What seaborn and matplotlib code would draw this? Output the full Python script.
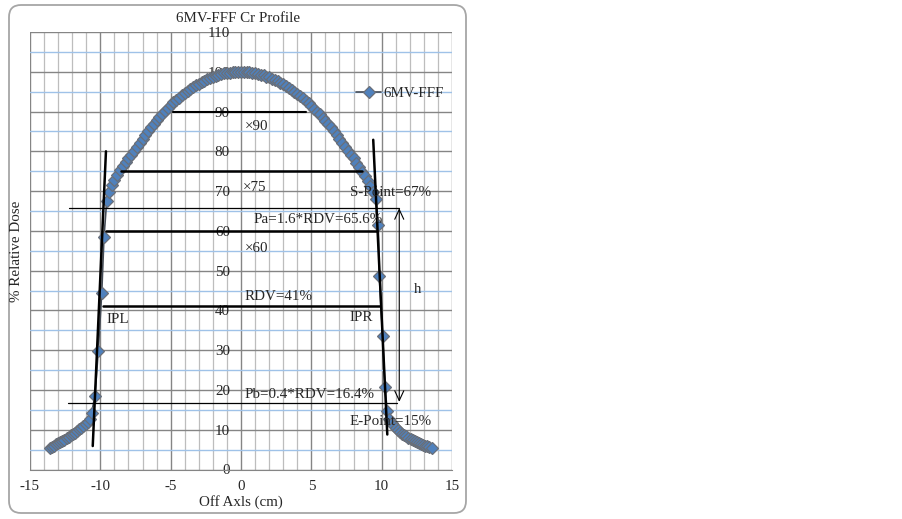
import matplotlib
matplotlib.use("Agg")
import matplotlib.pyplot as plt
import seaborn as sns
import pandas as pd
from matplotlib.patches import FancyBboxPatch
from matplotlib.transforms import IdentityTransform
from matplotlib.ticker import MultipleLocator

# profile 6MV-FFF doc tu hinh (x: cm, y: % dose)
off_axis = [
    -13.6, -13.45, -13.3, -13.15, -13.0, -12.85, -12.7, -12.55, -12.4, -12.25,
    -12.1, -11.95, -11.8, -11.65, -11.5, -11.35, -11.2, -11.05, -10.9, -10.75,
    -10.62, -10.38, -10.15, -9.9, -9.74, -9.55, -9.4,
    -9.2, -9.0, -8.8, -8.6, -8.4, -8.2, -8.0, -7.8, -7.6, -7.4, -7.2, -7.0,
    -6.8, -6.6, -6.4, -6.2, -6.0, -5.8, -5.6, -5.4, -5.2, -5.0, -4.8, -4.6,
    -4.4, -4.2, -4.0, -3.8, -3.6, -3.4, -3.2, -3.0, -2.8, -2.6, -2.4, -2.2,
    -2.0, -1.8, -1.6, -1.4, -1.2, -1.0, -0.8, -0.6, -0.4, -0.2, 0.0,
    0.2, 0.4, 0.6, 0.8, 1.0, 1.2, 1.4, 1.6, 1.8, 2.0, 2.2, 2.4, 2.6, 2.8,
    3.0, 3.2, 3.4, 3.6, 3.8, 4.0, 4.2, 4.4, 4.6, 4.8, 5.0, 5.2, 5.4, 5.6,
    5.8, 6.0, 6.2, 6.4, 6.6, 6.8, 7.0, 7.2, 7.4, 7.6, 7.8, 8.0, 8.2, 8.4,
    8.6, 8.8, 9.0, 9.2, 9.4, 9.6,
    9.76, 9.83, 10.07, 10.23, 10.4,
    10.55, 10.7, 10.85, 11.0, 11.15, 11.3, 11.45, 11.6, 11.75, 11.9, 12.05,
    12.2, 12.35, 12.5, 12.65, 12.8, 12.95, 13.1, 13.25, 13.4, 13.55,
]
rel_dose = [
    5.4, 5.7, 6.0, 6.3, 6.6, 6.9, 7.2, 7.5, 7.9, 8.2,
    8.6, 8.9, 9.3, 9.7, 10.1, 10.5, 10.9, 11.4, 12.0, 12.6,
    14.2, 18.6, 29.7, 44.4, 58.5, 67.4, 69.8,
    71.5, 72.9, 74.0, 75.2, 76.4, 77.4, 78.3, 79.2, 80.2, 81.2, 82.2, 83.2,
    84.1, 85.0, 86.0, 86.9, 87.8, 88.6, 89.4, 90.2, 90.9, 91.6, 92.3, 92.9,
    93.5, 94.1, 94.6, 95.1, 95.6, 96.1, 96.6, 97.0, 97.4, 97.8, 98.1, 98.4,
    98.7, 99.0, 99.2, 99.4, 99.6, 99.7, 99.8, 99.9, 100.0, 100.0, 100.0,
    100.0, 99.9, 99.9, 99.8, 99.7, 99.5, 99.3, 99.1, 98.8, 98.6, 98.3, 98.0, 97.6, 97.3,
    96.9, 96.5, 96.0, 95.5, 95.0, 94.5, 93.9, 93.3, 92.7, 92.1, 91.4, 90.7, 90.0, 89.3,
    88.5, 87.7, 86.9, 86.0, 85.1, 84.2, 83.2, 82.2, 81.2, 80.2, 79.2, 78.2, 77.1, 76.0,
    74.9, 73.7, 72.5, 71.2, 69.8, 67.9,
    61.6, 48.6, 33.5, 20.8, 14.6,
    12.6, 11.6, 11.0, 10.4, 9.9, 9.4, 9.0, 8.6, 8.3, 8.0, 7.7,
    7.4, 7.1, 6.8, 6.6, 6.4, 6.2, 6.0, 5.8, 5.6, 5.4,
]

# duong ngang: (muc, x bat dau, x ket thuc, do day)
h_levels = [90, 75, 65.7, 60, 41, 16.6]
h_start = [-4.8, -8.5, -12.2, -9.6, -9.8, -12.3]
h_end = [4.6, 8.6, 11.2, 9.65, 9.9, 11.1]
h_width = [1.5, 1.8, 0.9, 1.8, 1.8, 0.9]

# duong doc tai hai bien (IPL, IPR)
steep_x = [(-9.6, -10.54), (9.4, 10.4)]
steep_y = [(80, 5.9), (82.9, 8.8)]

labels = ["\u00d790", "\u00d775", "\u00d760", "S-Point=67%", "Pa=1.6*RDV=65.6%",
          "RDV=41%", "IPL", "IPR", "h", "Pb=0.4*RDV=16.4%", "E-Point=15%"]
label_x = [0.28, 0.16, 0.28, 7.75, 0.9, 0.28, -9.55, 7.74, 12.3, 0.28, 7.74]
label_y = [86.3, 70.8, 55.5, 69.7, 62.8, 43.5, 37.7, 38.1, 45.2, 18.8, 12.1]

df = pd.DataFrame({"x": off_axis, "y": rel_dose})

FS = 10.8
sns.set_style("white")
plt.rcParams['font.family'] = ['Liberation Serif', 'DejaVu Serif']
plt.rcParams['font.size'] = FS
plt.rcParams['axes.unicode_minus'] = False

W, H = 903, 519
fig = plt.figure(figsize=(W / 100, H / 100), dpi=100)
ax = fig.add_axes([30 / W, 1 - 469.5 / H, 422 / W, 437.5 / H])

# khung bo tron quanh bieu do
border = FancyBboxPatch((9, 6), 457, 508, boxstyle="round,pad=0,rounding_size=12",
                        transform=IdentityTransform(), facecolor="none",
                        edgecolor="#a6a6a6", linewidth=1.3)
fig.add_artist(border)

ax.set_xlim(-15, 15)
ax.set_ylim(0, 110)
ax.xaxis.set_major_locator(MultipleLocator(5))
ax.xaxis.set_minor_locator(MultipleLocator(1))
ax.yaxis.set_major_locator(MultipleLocator(10))
ax.yaxis.set_minor_locator(MultipleLocator(5))

ax.grid(which="minor", axis="x", color="#bdbdbd", linewidth=0.9)
ax.grid(which="major", axis="x", color="#858585", linewidth=1.0)
ax.grid(which="minor", axis="y", color="#9fc2e8", linewidth=1.0)
ax.grid(which="major", axis="y", color="#858585", linewidth=1.0)
ax.set_axisbelow(True)

for s in ["top", "right"]:
    ax.spines[s].set_visible(False)
ax.spines["bottom"].set_color("#858585")
ax.spines["left"].set_position(("data", 0))
ax.spines["left"].set_visible(False)

ax.tick_params(axis="y", which="both", length=0, pad=8.0, labelsize=FS)
ax.tick_params(axis="x", which="both", direction="out", length=2.5, color="#858585",
               pad=5, labelsize=FS)

sns.lineplot(data=df, x="x", y="y", ax=ax, sort=False, color="#444b55", linewidth=1.2,
             marker="D", markersize=6, markerfacecolor="#4f81bd",
             markeredgecolor="#6a6f78", markeredgewidth=0.9, label="6MV-FFF")
ax.set_xlabel("")
ax.set_ylabel("")

for lvl, x0, x1, lw in zip(h_levels, h_start, h_end, h_width):
    ax.plot([x0, x1], [lvl, lvl], color="black", linewidth=lw, zorder=4)
for xs, ys in zip(steep_x, steep_y):
    ax.plot(xs, ys, color="black", linewidth=1.8, zorder=4)

ax.annotate("", xy=(11.25, 65.7), xytext=(11.25, 17.0),
            arrowprops=dict(arrowstyle="<->,head_length=0.65,head_width=0.3",
                            color="black", lw=0.8, shrinkA=0, shrinkB=0), zorder=4)

for t, tx, ty in zip(labels, label_x, label_y):
    ax.text(tx, ty, t, ha="left", va="center", fontsize=FS, zorder=5)

leg = ax.legend(loc="center left", bbox_to_anchor=(0.74, 0.86), frameon=False,
                handlelength=1.7, handletextpad=0.15, fontsize=FS)

fig.text(238 / W, 1 - 18 / H, "6MV-FFF Cr Profile", ha="center", va="center", fontsize=FS)
fig.text(241 / W, 1 - 502 / H, "Off Axls (cm)", ha="center", va="center", fontsize=FS)
fig.text(17 / W, 1 - 251 / H, "% Relative Dose", ha="center", va="center",
         rotation=90, fontsize=FS)

fig.savefig("out.png", dpi=100)
plt.close(fig)
